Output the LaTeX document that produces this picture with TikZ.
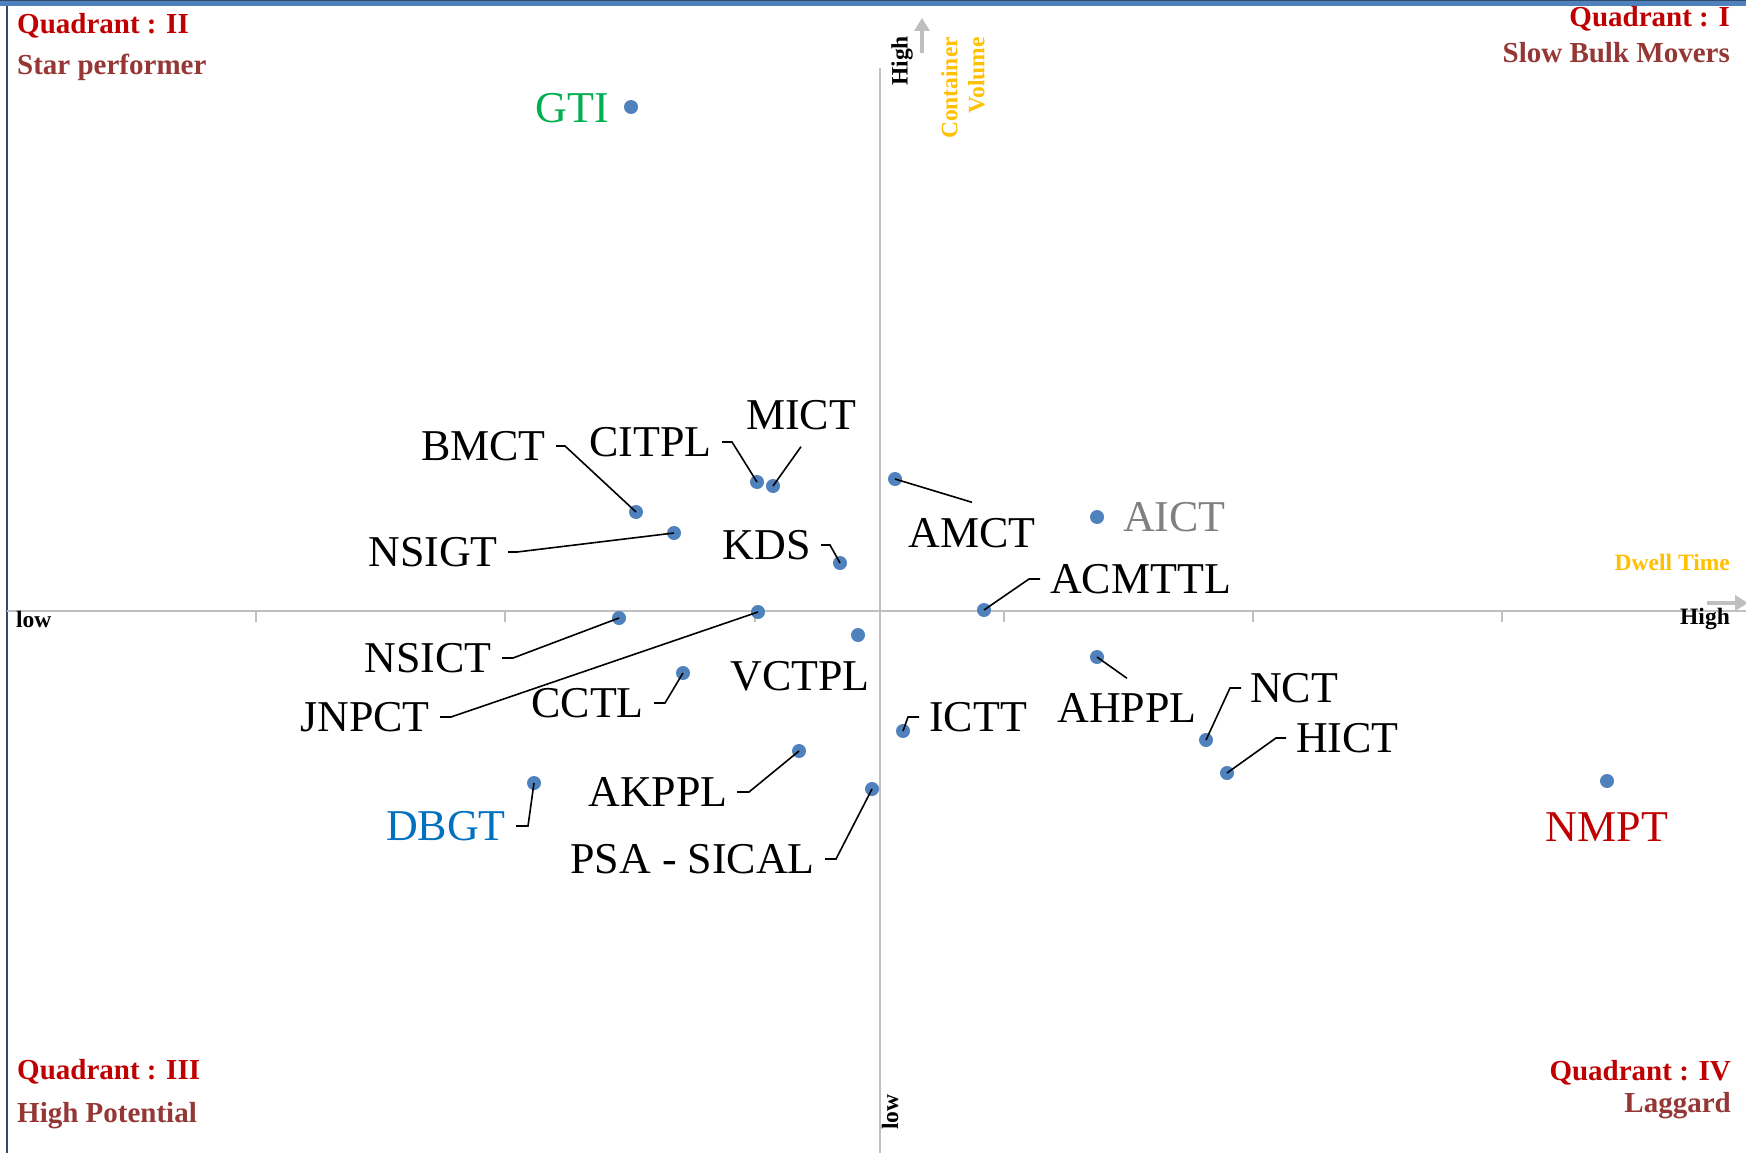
\documentclass[tikz,border=0pt]{standalone}
\usepackage{fontspec}
\setmainfont{Liberation Serif}
\usepackage{xcolor}
\usepackage{tikz}
\usetikzlibrary{arrows.meta}

\definecolor{dotblue}{HTML}{4F81BD}
\definecolor{axisgray}{HTML}{BFBFBF}
\definecolor{quadred}{HTML}{C00000}
\definecolor{quadbrown}{HTML}{953735}
\definecolor{axisgold}{HTML}{FFC000}
\definecolor{gtigreen}{HTML}{00B050}
\definecolor{dbgtblue}{HTML}{0070C0}
\definecolor{aictgray}{HTML}{808080}
\definecolor{framedark}{HTML}{2F4B6E}

\tikzstyle{portdot} = [circle, fill=dotblue, minimum size=14pt, inner sep=0pt]
\tikzstyle{port} = [inner sep=0pt, text height=29pt, text depth=0pt, font=\fontsize{44}{52}\selectfont]
\tikzstyle{leader} = [line width=1.6pt]
\tikzstyle{quad} = [inner sep=0pt, font=\fontsize{29}{34}\selectfont\bfseries]
\tikzstyle{axlabel} = [inner sep=0pt, font=\fontsize{23.5}{27}\selectfont\bfseries]
\tikzstyle{arrow} = [line width=4pt, color=axisgray, -{Triangle[length=13pt,width=15pt]}]

\begin{document}
\begin{tikzpicture}[x=1pt,y=-1pt]
	\useasboundingbox (0,0) rectangle (1746,1153);
	\fill[white] (0,0) rectangle (1746,1153);

	% Frame:
	% Only the top and the left edge are drawn
	\draw[framedark, line width=2pt] (7,0) -- (7,1153);
	\fill[dotblue] (0,1) rectangle (1746,6);
	\draw[framedark, line width=1.4pt] (0,0.7) -- (1746,0.7);

	\begin{scope}[line width=2pt, color=axisgray]
	% Axes:
	% Simple lines crossing in the middle, the unit steps only on the horizontal one
	\coordinate (xl) at (7,611);
	\coordinate (xr) at (1746,611);
	\coordinate (yt) at (880,68);
	\coordinate (yb) at (880,1153);
	\draw (xl) -- (xr);
	\draw (yt) -- (yb);
	\foreach \x in {256,505,755,1004,1253,1502}{%
		\draw (\x,611) -- (\x,622);
	}
	\end{scope}

	% Direction arrows:
	\coordinate (ua) at (922,53);
	\coordinate (ub) at (922,18);
	\coordinate (ra) at (1707,603);
	\coordinate (rb) at (1748,603);
	\draw[arrow] (ua) -- (ub);
	\draw[arrow] (ra) -- (rb);

	% Axes labels:
	\node[axlabel, anchor=base west] (xlow) at (16,627) {low};
	\node[axlabel, anchor=base east] (xhigh) at (1730,624) {High};
	\node[axlabel, anchor=base east, text=axisgold] (xname) at (1730,570) {Dwell Time};
	\node[axlabel, rotate=90] (yhigh) at (902,61) {High};
	\node[axlabel, rotate=90, align=right, text=axisgold] (yname) at (963,88) {Container\\Volume};
	\node[axlabel, rotate=90] (ylow) at (890,1112) {low};

	% Quadrant names:
	\node[quad, anchor=base west, text=quadred] (q2) at (17,34) {Quadrant : II};
	\node[quad, anchor=base west, text=quadbrown] (q2s) at (17,75) {Star performer};
	\node[quad, anchor=base east, text=quadred] (q1) at (1730,27) {Quadrant : I};
	\node[quad, anchor=base east, text=quadbrown] (q1s) at (1730,63) {Slow Bulk Movers};
	\node[quad, anchor=base west, text=quadred] (q3) at (17,1079) {Quadrant : III};
	\node[quad, anchor=base west, text=quadbrown] (q3s) at (17,1122) {High Potential};
	\node[quad, anchor=base east, text=quadred] (q4) at (1731,1080) {Quadrant : IV};
	\node[quad, anchor=base east, text=quadbrown] (q4s) at (1731,1112) {Laggard};

	% Terminals:
	\node[portdot] (gti) at (631,107) {};
	\node[portdot] (bmct) at (636,512) {};
	\node[portdot] (citpl) at (757,482) {};
	\node[portdot] (mict) at (773,486) {};
	\node[portdot] (nsigt) at (674,533) {};
	\node[portdot] (kds) at (840,563) {};
	\node[portdot] (amct) at (895,479) {};
	\node[portdot] (aict) at (1097,517) {};
	\node[portdot] (acmttl) at (984,610) {};
	\node[portdot] (nsict) at (619,618) {};
	\node[portdot] (jnpct) at (758,612) {};
	\node[portdot] (vctpl) at (858,635) {};
	\node[portdot] (cctl) at (683,673) {};
	\node[portdot] (ictt) at (903,731) {};
	\node[portdot] (ahppl) at (1097,657) {};
	\node[portdot] (nct) at (1206,740) {};
	\node[portdot] (hict) at (1227,773) {};
	\node[portdot] (akppl) at (799,751) {};
	\node[portdot] (psasical) at (872,789) {};
	\node[portdot] (dbgt) at (534,783) {};
	\node[portdot] (nmpt) at (1607,781) {};

	% Terminal names:
	\node[port, anchor=east, text=gtigreen] (gti-l) at (609,108) {GTI};
	\node[port, anchor=east] (bmct-l) at (546,446) {BMCT};
	\node[port, anchor=east] (citpl-l) at (712,442) {CITPL};
	\node[port] (mict-l) at (801,415) {MICT};
	\node[port, anchor=east] (nsigt-l) at (498,552) {NSIGT};
	\node[port, anchor=east] (kds-l) at (811,545) {KDS};
	\node[port] (amct-l) at (972,533) {AMCT};
	\node[port, anchor=west, text=aictgray] (aict-l) at (1123,517) {AICT};
	\node[port, anchor=west] (acmttl-l) at (1050,579) {ACMTTL};
	\node[port, anchor=east] (nsict-l) at (492,658) {NSICT};
	\node[port, anchor=east] (jnpct-l) at (430,717) {JNPCT};
	\node[port, anchor=east] (cctl-l) at (644,703) {CCTL};
	\node[port] (vctpl-l) at (800,676) {VCTPL};
	\node[port, anchor=west] (ictt-l) at (929,717) {ICTT};
	\node[port] (ahppl-l) at (1127,708) {AHPPL};
	\node[port, anchor=west] (nct-l) at (1250,688) {NCT};
	\node[port, anchor=west] (hict-l) at (1296,738) {HICT};
	\node[port, anchor=east] (akppl-l) at (728,792) {AKPPL};
	\node[port, anchor=east, text=dbgtblue] (dbgt-l) at (506,826) {DBGT};
	\node[port, anchor=east] (psasical-l) at (815,859) {PSA - SICAL};
	\node[port, text=quadred] (nmpt-l) at (1607,827) {NMPT};

	% Leader lines from the names to their points:
	\draw[leader] ([xshift=10pt]bmct-l.east) -- ++(9,0) -- (bmct.center);
	\draw[leader] ([xshift=10pt]citpl-l.east) -- ++(10,0) -- (citpl.center);
	\draw[leader] ([yshift=-17pt]mict-l.south) -- (mict.center);
	\draw[leader] ([xshift=10pt]nsigt-l.east) -- ++(9,0) -- (nsigt.center);
	\draw[leader] ([xshift=10pt]kds-l.east) -- ++(9,0) -- (kds.center);
	\draw[leader] ([yshift=16pt]amct-l.north) -- (amct.center);
	\draw[leader] ([xshift=-10pt]acmttl-l.west) -- ++(-11,0) -- (acmttl.center);
	\draw[leader] ([xshift=10pt]nsict-l.east) -- ++(11,0) -- (nsict.center);
	\draw[leader] ([xshift=10pt]jnpct-l.east) -- ++(11,0) -- (jnpct.center);
	\draw[leader] ([xshift=10pt]cctl-l.east) -- ++(11,0) -- (cctl.center);
	\draw[leader] ([xshift=-10pt]ictt-l.west) -- ++(-11,0) -- (ictt.center);
	\draw[leader] ([yshift=15pt]ahppl-l.north) -- (ahppl.center);
	\draw[leader] ([xshift=-9pt]nct-l.west) -- ++(-11,0) -- (nct.center);
	\draw[leader] ([xshift=-10pt]hict-l.west) -- ++(-10,0) -- (hict.center);
	\draw[leader] ([xshift=9pt]akppl-l.east) -- ++(12,0) -- (akppl.center);
	\draw[leader] ([xshift=10pt]dbgt-l.east) -- ++(12,0) -- (dbgt.center);
	\draw[leader] ([xshift=10pt]psasical-l.east) -- ++(11,0) -- (psasical.center);
\end{tikzpicture}
\end{document}
